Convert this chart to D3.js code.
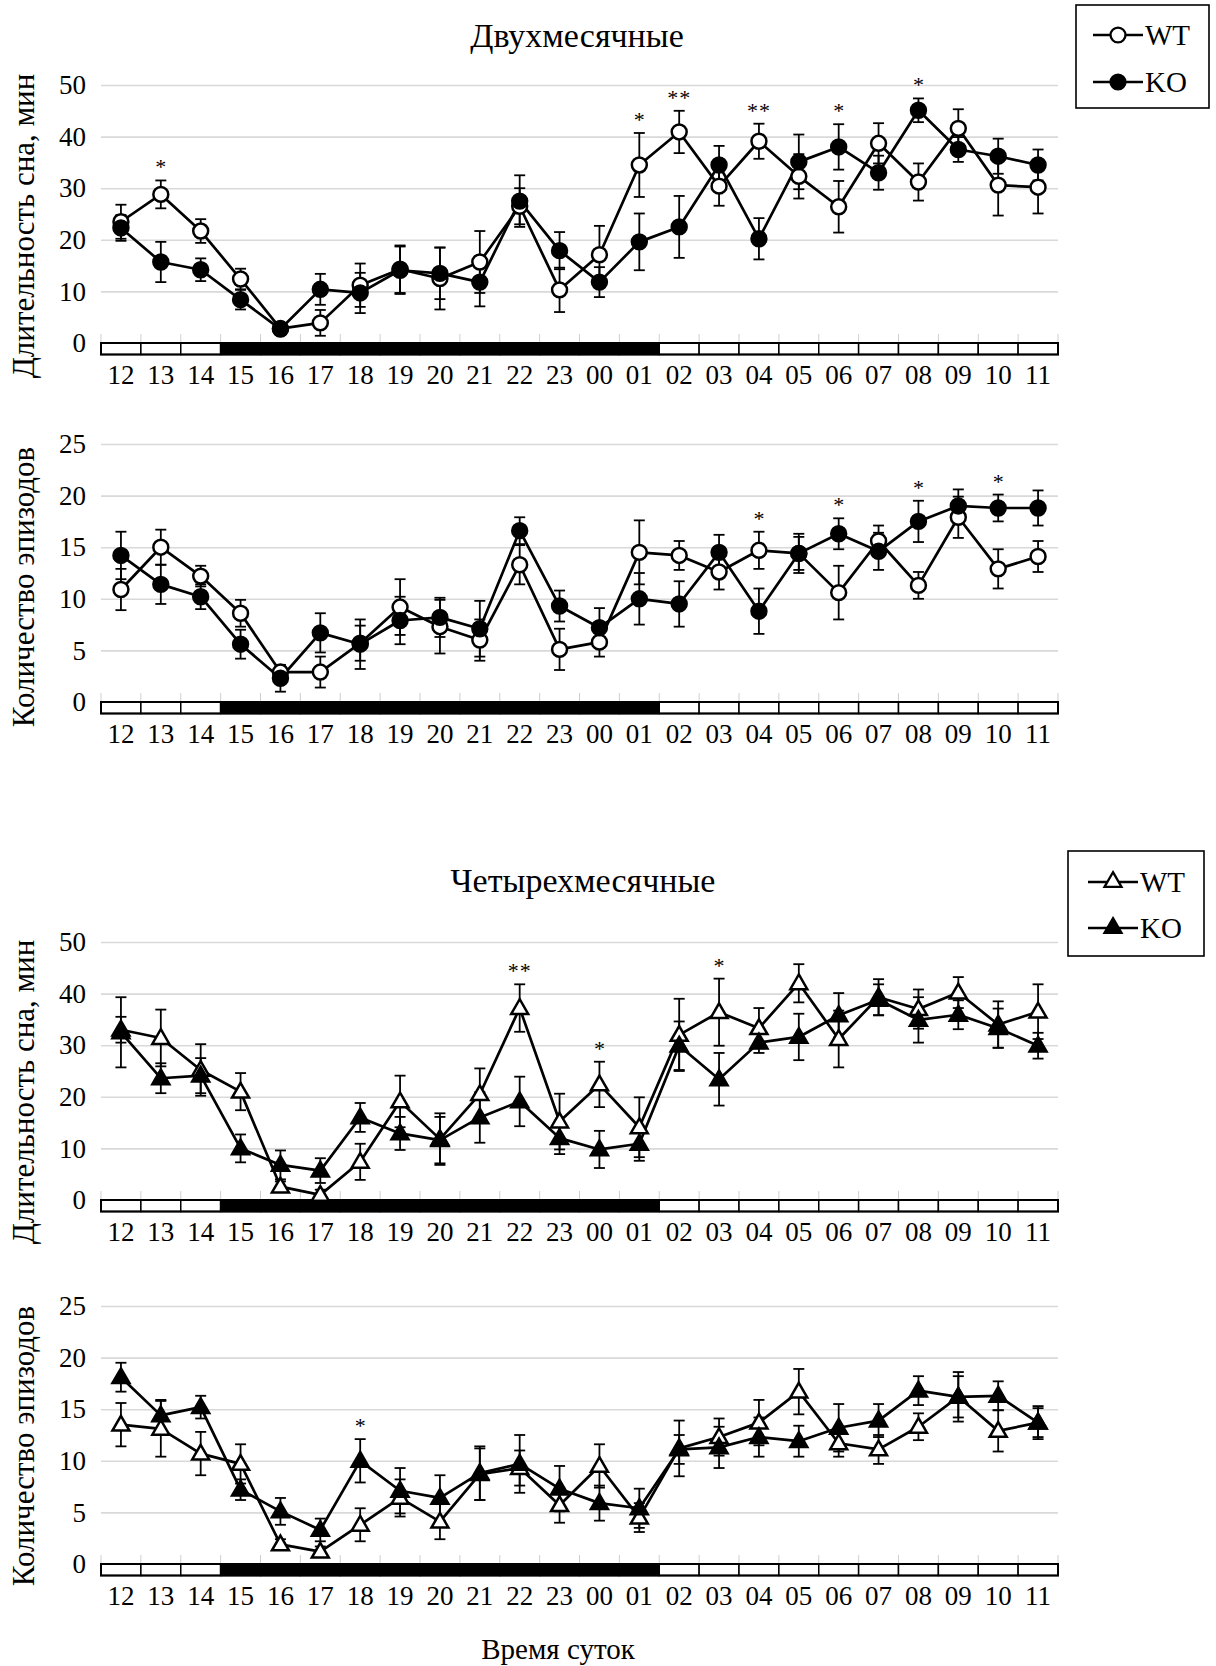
<!DOCTYPE html>
<html>
<head>
<meta charset="utf-8">
<script src="https://cdn.jsdelivr.net/npm/d3@7/dist/d3.min.js"></script>
<style>
  html, body { margin: 0; padding: 0; background: #fff; }
  svg { display: block; }
  text { font-family: "Liberation Serif", "Times New Roman", serif; fill: #000; }
</style>
</head>
<body>
<svg id="chart" width="1216" height="1666"></svg>
<script>
// Hours of the day (recording starts at 12:00)
const hours = ["12","13","14","15","16","17","18","19","20","21","22","23",
               "00","01","02","03","04","05","06","07","08","09","10","11"];
// Light/dark phase of each hour: L = light, D = dark
const phase = ["L","L","L","D","D","D","D","D","D","D","D","D",
               "D","D","L","L","L","L","L","L","L","L","L","L"];

// Two-month-old mice: sleep duration, min
const dur2WT    = [23.5,28.8,21.7,12.4,2.8,3.9,11.2,14.3,12.5,15.7,26.5,10.3,17.1,34.5,40.9,30.4,39.1,32.3,26.4,38.7,31.2,41.6,30.6,30.2];
const dur2WTerr = [3.3,2.7,2.3,2.0,0.6,2.5,4.2,4.6,6.0,6.0,3.5,4.3,5.6,6.2,4.1,3.8,3.4,4.3,5.0,3.9,3.6,3.7,5.9,5.1];
const dur2KO    = [22.3,15.7,14.2,8.4,2.7,10.4,9.7,14.1,13.5,11.8,27.5,17.9,11.8,19.6,22.5,34.5,20.2,35.1,38.0,33.0,45.1,37.5,36.2,34.5];
const dur2KOerr = [2.5,3.9,2.2,1.9,0.5,3.0,3.9,4.6,5.0,4.7,5.0,3.6,2.9,5.5,6.0,3.7,4.0,5.3,4.4,3.3,2.3,2.4,3.4,3.0];
const dur2Sig   = ["","*","","","","","","","","","","","","*","**","","**","","*","","*","","",""];

// Two-month-old mice: number of episodes
const ep2WT    = [10.9,15.0,12.2,8.6,2.9,2.9,5.7,9.2,7.3,6.0,13.3,5.1,5.8,14.5,14.2,12.6,14.7,14.4,10.6,15.6,11.3,17.9,12.9,14.1];
const ep2WTerr = [2.0,1.7,1.0,1.3,0.5,1.5,1.7,2.7,2.6,2.0,1.9,2.0,1.4,3.1,1.4,1.7,1.8,1.6,2.6,1.5,1.3,2.0,1.9,1.5];
const ep2KO    = [14.2,11.4,10.2,5.6,2.3,6.7,5.6,7.9,8.2,7.1,16.6,9.3,7.2,10.0,9.5,14.5,8.8,14.4,16.3,14.6,17.5,19.0,18.8,18.8];
const ep2KOerr = [2.3,1.9,1.2,1.4,1.3,1.9,2.4,2.3,1.9,2.7,1.3,1.5,1.9,2.5,2.2,1.7,2.2,1.9,1.5,1.8,2.0,1.6,1.3,1.7];
const ep2Sig   = ["","","","","","","","","","","","","","","","","*","","*","","*","","*",""];

// Four-month-old mice: sleep duration, min
const dur4WT    = [33.0,31.4,25.2,21.0,2.6,1.0,7.4,19.1,11.8,20.5,37.2,15.2,22.4,14.1,32.0,36.4,33.3,42.0,31.2,39.3,37.0,40.2,34.0,36.5];
const dur4WTerr = [2.5,5.5,5.0,3.6,1.0,1.0,3.5,5.0,5.0,5.0,4.6,5.4,4.4,5.8,7.0,6.5,3.9,3.7,5.5,3.5,3.8,3.0,4.5,5.3];
const dur4KO    = [32.5,23.6,24.1,10.0,6.8,5.7,16.0,12.9,11.6,16.0,19.1,12.0,9.8,10.9,29.9,23.4,30.5,31.6,35.8,38.8,34.9,35.9,33.3,29.9];
const dur4KOerr = [6.8,2.9,3.4,2.7,2.8,2.4,2.8,3.2,4.5,4.9,4.8,3.1,3.6,3.3,4.7,5.1,2.0,4.5,4.3,3.0,4.4,2.8,3.8,2.5];
const dur4Sig   = ["","","","","","","","","","","**","","*","","","*","","","","","","","",""];

// Four-month-old mice: number of episodes
const ep4WT    = [13.5,13.1,10.7,9.7,1.9,1.2,3.8,6.4,4.1,8.7,9.3,5.7,9.5,4.5,11.2,12.3,13.7,16.7,11.7,11.1,13.3,16.2,12.9,13.7];
const ep4WTerr = [2.1,2.7,2.1,1.9,0.5,0.5,1.6,1.8,1.7,2.5,1.7,1.7,2.1,1.4,2.7,1.8,2.2,2.2,1.3,1.4,1.3,2.0,2.0,1.4];
const ep4KO    = [18.1,14.4,15.2,7.2,5.1,3.3,10.0,7.1,6.4,8.8,9.7,7.3,5.9,5.4,11.1,11.3,12.3,11.9,13.2,13.9,16.8,16.2,16.3,13.7];
const ep4KOerr = [1.4,1.5,1.1,1.0,1.3,1.1,2.1,2.2,2.2,2.6,2.8,2.2,1.7,1.9,1.4,2.0,1.9,1.5,2.3,1.6,1.4,2.4,1.4,1.6];
const ep4Sig   = ["","","","","","","*","","","","","","","","","","","","","","","","",""];

// Axis ticks and texts
const durTicks = [0,10,20,30,40,50];
const epTicks  = [0,5,10,15,20,25];
const groupLabels = ["WT","KO"];
const durTitle = "Длительность сна, мин";
const epTitle  = "Количество эпизодов";
const xTitle   = "Время суток";
const title2m  = "Двухмесячные";
const title4m  = "Четырехмесячные";

const svg = d3.select("#chart");
svg.append("rect").attr("width",1216).attr("height",1666).attr("fill","#fff");

const plotLeft = 101, plotRight = 1058, plotH = 258, barH = 11.5;
const tickFont = 27;
const x = d3.scaleBand().domain(hours).range([plotLeft, plotRight]).padding(0);

const circleSym = d3.symbol().type(d3.symbolCircle).size(175);
const triSym = d3.symbol().type(d3.symbolTriangle).size(125);

function drawPanel(cfg) {
  const g = svg.append("g");
  const y0 = cfg.top + plotH;
  const y = d3.scaleLinear().domain([0, cfg.ticks[cfg.ticks.length-1]]).range([y0, cfg.top]);
  const cx = i => x(hours[i]) + x.bandwidth()/2;

  // y axis: labels and gridlines
  const ya = g.append("g").attr("transform", `translate(${plotLeft},0)`)
    .call(d3.axisLeft(y).tickValues(cfg.ticks).tickSize(-(plotRight-plotLeft)).tickPadding(15));
  ya.select(".domain").remove();
  ya.selectAll(".tick line").attr("stroke","#d9d9d9").attr("stroke-width",1.6)
    .filter(d => d === 0).remove();
  ya.selectAll(".tick text").attr("font-size",tickFont).attr("font-family","Liberation Serif, serif");

  // small ticks above the light/dark bar
  g.append("g").selectAll("line")
    .data(d3.range(hours.length + 1))
    .join("line")
    .attr("x1", i => plotLeft + i*x.bandwidth())
    .attr("x2", i => plotLeft + i*x.bandwidth())
    .attr("y1", y0 - 9).attr("y2", y0)
    .attr("stroke","#cfcfcf").attr("stroke-width",1);

  // light/dark bar
  g.append("g").selectAll("rect")
    .data(hours)
    .join("rect")
    .attr("x", d => x(d)).attr("y", y0)
    .attr("width", x.bandwidth()).attr("height", barH)
    .attr("fill", (d,i) => phase[i] === "D" ? "#000" : "#fff")
    .attr("stroke","#000").attr("stroke-width",1.5);
  g.append("rect").attr("x",plotLeft).attr("y",y0).attr("width",plotRight-plotLeft).attr("height",barH)
    .attr("fill","none").attr("stroke","#000").attr("stroke-width",2);

  // x axis labels
  const xa = g.append("g").attr("transform", `translate(0,${y0+barH})`)
    .call(d3.axisBottom(x).tickSize(0).tickPadding(10));
  xa.select(".domain").remove();
  xa.selectAll(".tick text").attr("font-size",tickFont).attr("font-family","Liberation Serif, serif");

  // y axis title
  g.append("text")
    .attr("transform", `translate(${cfg.titleX},${cfg.titleY}) rotate(-90)`)
    .attr("text-anchor","middle").attr("dominant-baseline","central")
    .attr("font-size",31).text(cfg.yTitle);

  const series = [
    {vals: cfg.wt, err: cfg.wtErr, fill: "#fff"},
    {vals: cfg.ko, err: cfg.koErr, fill: "#000"}
  ];
  const sym = cfg.marker === "tri" ? triSym : circleSym;
  const line = d3.line().x((d,i) => cx(i)).y(d => y(d));

  // error bars
  series.forEach(s => {
    const eg = g.append("g").attr("stroke","#000").attr("stroke-width",1.8);
    s.vals.forEach((v,i) => {
      const lo = y(Math.max(0, v - s.err[i])), hi = y(v + s.err[i]);
      eg.append("line").attr("x1",cx(i)).attr("x2",cx(i)).attr("y1",lo).attr("y2",hi);
      eg.append("line").attr("x1",cx(i)-5.5).attr("x2",cx(i)+5.5).attr("y1",hi).attr("y2",hi);
      eg.append("line").attr("x1",cx(i)-5.5).attr("x2",cx(i)+5.5).attr("y1",lo).attr("y2",lo);
    });
  });
  // connecting lines
  series.forEach(s => {
    g.append("path").datum(s.vals).attr("d", line)
      .attr("fill","none").attr("stroke","#000").attr("stroke-width",2.7).attr("stroke-linejoin","round");
  });
  // markers
  series.forEach(s => {
    g.append("g").selectAll("path").data(s.vals).join("path")
      .attr("d", sym)
      .attr("transform", (d,i) => `translate(${cx(i)},${y(d) + (cfg.marker === "tri" ? 1 : 0)})`)
      .attr("fill", s.fill).attr("stroke","#000").attr("stroke-width",2.5);
  });

  // significance marks above the higher error bar
  cfg.sig.forEach((s,i) => {
    if (!s) return;
    const top = Math.max(cfg.wt[i] + cfg.wtErr[i], cfg.ko[i] + cfg.koErr[i]);
    g.append("text")
      .attr("x", cx(i))
      .attr("y", y(top) - 6)
      .attr("text-anchor","middle").attr("font-size",22)
      .attr("letter-spacing", s.length > 1 ? 1 : 0)
      .text(s);
  });
}

function legend(cfg) {
  const g = svg.append("g");
  g.append("rect").attr("x",cfg.x).attr("y",cfg.y).attr("width",cfg.w).attr("height",cfg.h)
    .attr("fill","#fff").attr("stroke","#000").attr("stroke-width",1.6);
  const sym = cfg.marker === "tri" ? triSym : circleSym;
  groupLabels.forEach((lab,i) => {
    const ly = cfg.rows[i];
    g.append("line").attr("x1",cfg.lx1).attr("x2",cfg.lx2).attr("y1",ly).attr("y2",ly)
      .attr("stroke","#000").attr("stroke-width",2.7);
    g.append("path").attr("d", sym)
      .attr("transform",`translate(${(cfg.lx1+cfg.lx2)/2},${ly})`)
      .attr("fill", i === 0 ? "#fff" : "#000").attr("stroke","#000").attr("stroke-width",2.3);
    g.append("text").attr("x",cfg.lx2 + 2).attr("y",ly).attr("dominant-baseline","central")
      .attr("font-size",29).text(lab);
  });
}

svg.append("text").attr("x",577).attr("y",35).attr("text-anchor","middle")
  .attr("dominant-baseline","central").attr("font-size",34).text(title2m);
svg.append("text").attr("x",583).attr("y",880).attr("text-anchor","middle")
  .attr("dominant-baseline","central").attr("font-size",34).text(title4m);
svg.append("text").attr("x",558).attr("y",1649).attr("text-anchor","middle")
  .attr("dominant-baseline","central").attr("font-size",29).text(xTitle);

drawPanel({top: 85, ticks: durTicks, wt: dur2WT, wtErr: dur2WTerr, ko: dur2KO, koErr: dur2KOerr,
  sig: dur2Sig, marker: "circle", yTitle: durTitle, titleX: 23, titleY: 226});
drawPanel({top: 444, ticks: epTicks, wt: ep2WT, wtErr: ep2WTerr, ko: ep2KO, koErr: ep2KOerr,
  sig: ep2Sig, marker: "circle", yTitle: epTitle, titleX: 23, titleY: 587});
drawPanel({top: 942, ticks: durTicks, wt: dur4WT, wtErr: dur4WTerr, ko: dur4KO, koErr: dur4KOerr,
  sig: dur4Sig, marker: "tri", yTitle: durTitle, titleX: 23, titleY: 1092});
drawPanel({top: 1306, ticks: epTicks, wt: ep4WT, wtErr: ep4WTerr, ko: ep4KO, koErr: ep4KOerr,
  sig: ep4Sig, marker: "tri", yTitle: epTitle, titleX: 23, titleY: 1446});

legend({x:1076, y:5, w:133, h:103, lx1:1093, lx2:1143, rows:[35,82], marker:"circle"});
legend({x:1068, y:851, w:136, h:105, lx1:1088, lx2:1138, rows:[882,928], marker:"tri"});
</script>
</body>
</html>
